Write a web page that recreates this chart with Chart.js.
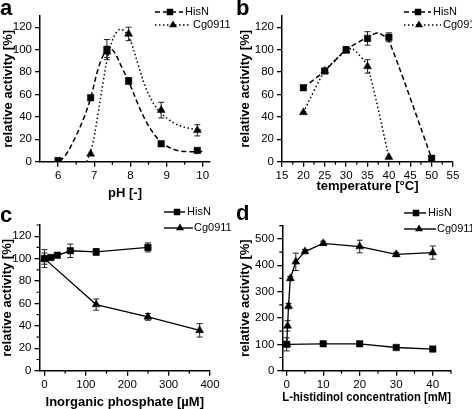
<!DOCTYPE html>
<html>
<head>
<meta charset="utf-8">
<style>
    body { margin: 0; background: #fff; width: 472px; height: 409px; overflow: hidden; position: relative; }
    .panel { position: absolute; }
</style>
</head>
<body>
    <div class="panel" style="left:0;top:0"><canvas id="pa" width="236" height="205"></canvas></div>
    <div class="panel" style="left:236px;top:0"><canvas id="pb" width="236" height="205"></canvas></div>
    <div class="panel" style="left:0;top:205px"><canvas id="pc" width="236" height="204"></canvas></div>
    <div class="panel" style="left:236px;top:205px"><canvas id="pd" width="236" height="204"></canvas></div>
    <script src="https://cdn.jsdelivr.net/npm/chart.js@4/dist/chart.umd.min.js"></script>
    <script>
        // ---- a: pH ----
        const phHisN = [6.0, 6.9, 7.35, 7.95, 8.85, 9.85];
        const phHisNAct = [1, 57, 100, 72, 16, 10];
        const phHisNErr = [0, 0, 9, 3, 0, 0];
        const phCg = [6.9, 7.35, 7.95, 8.85, 9.85];
        const phCgAct = [7, 98, 114, 46, 28];
        const phCgErr = [0, 5, 6, 7, 5];
        // fitted curves
        const phFitHisNX = [6.05, 6.25, 6.45, 6.7, 6.9, 7.1, 7.25, 7.4, 7.55, 7.75, 8.0, 8.2, 8.4, 8.6, 8.8, 9.0, 9.3, 9.6, 10.0];
        const phFitHisNY = [0, 8, 20, 38, 57, 82, 95, 101, 98, 85, 68, 52, 38, 27, 19, 14, 10, 9, 9];
        const phFitCgX = [6.8, 6.95, 7.1, 7.25, 7.35, 7.45, 7.55, 7.7, 7.85, 8.0, 8.2, 8.4, 8.6, 8.8, 9.0, 9.3, 9.6, 10.0];
        const phFitCgY = [0, 15, 42, 72, 90, 103, 112, 118, 116, 108, 88, 68, 54, 45, 39, 33, 30, 28];
        const phTicks = [6, 7, 8, 9, 10];
        const phMinor = [6.5, 7.5, 8.5, 9.5];

        // ---- b: temperature ----
        const tHisN = [20, 25, 30, 35, 40, 50];
        const tHisNAct = [66, 81, 100, 110, 111, 3];
        const tHisNErr = [0, 2, 2, 6, 4, 0];
        const tCg = [20, 25, 30, 35, 40];
        const tCgAct = [44, 81, 99, 85, 4];
        const tCgErr = [0, 2, 2, 6, 0];
        const tLineHisNX = [20, 25, 30, 35, 37.5, 40, 50];
        const tLineHisNY = [66, 81, 100, 111, 115, 108, 3];
        const tLineCgX = [20, 25, 30, 31.5, 35, 40];
        const tLineCgY = [44, 81, 99, 101, 85, 4];
        const tTicks = [15, 20, 25, 30, 35, 40, 45, 50, 55];
        const tMinor = [17.5, 22.5, 27.5, 32.5, 37.5, 42.5, 47.5, 52.5];

        // ---- c: inorganic phosphate ----
        const piHisN = [0, 15.6, 31.25, 62.5, 125, 250];
        const piHisNAct = [100, 101, 103, 107, 106, 110];
        const piHisNErr = [8, 0, 0, 6, 3, 4];
        const piCg = [0, 125, 250, 375];
        const piCgAct = [100, 59, 48, 36];
        const piCgErr = [5, 5, 3, 6];
        const piTicks = [0, 100, 200, 300, 400];
        const piMinor = [50, 150, 250, 350];

        // ---- d: L-histidinol ----
        const holHisN = [0, 10, 20, 30, 40];
        const holHisNAct = [100, 102, 102, 88, 82];
        const holHisNErr = [25, 0, 5, 0, 0];
        const holCg = [0, 0.25, 0.5, 1, 2.5, 5, 10, 20, 30, 40];
        const holCgAct = [100, 170, 245, 350, 413, 452, 483, 471, 441, 448];
        const holCgErr = [0, 20, 10, 8, 33, 8, 8, 24, 8, 25];
        const holTicks = [0, 10, 20, 30, 40];
        const holMinor = [5, 15, 25, 35, 45];

        const actTicks = [0, 20, 40, 60, 80, 100, 120];
        const actMinorFine = [10, 30, 50, 70, 90, 110, 130];
        const holActTicks = [0, 100, 200, 300, 400, 500];
        const holActMinor = [50, 150, 250, 350, 450, 550];

        Chart.defaults.font.family = '"Liberation Sans", Arial, sans-serif';
        Chart.defaults.color = '#000';

        const pts = (xs, ys) => xs.map((x, i) => ({ x: x, y: ys[i] }));

        function markers(label, style, xs, ys, errs, line) {
            return {
                label: label, data: pts(xs, ys), errors: errs,
                pointStyle: style, pointRadius: 4.6, pointBorderWidth: 0.5,
                pointBackgroundColor: '#000', pointBorderColor: '#000',
                showLine: !!line, borderColor: '#000', borderWidth: 1.3, tension: 0
            };
        }
        function curve(xs, ys, dash, tension) {
            return {
                data: pts(xs, ys), showLine: true, pointRadius: 0,
                borderColor: '#000', borderWidth: 1.5, borderDash: dash, tension: tension
            };
        }

        function drawMarker(ctx, style, x, y) {
            ctx.beginPath();
            if (style === 'rect') {
                ctx.rect(x - 3.25, y - 3.25, 6.5, 6.5);
            } else {
                ctx.moveTo(x, y - 4.6);
                ctx.lineTo(x + 4, y + 2.3);
                ctx.lineTo(x - 4, y + 2.3);
                ctx.closePath();
            }
            ctx.fill();
        }

        function makeDecor(cfg) {
            return {
                id: 'decor',
                beforeDatasetsDraw(chart) {
                    const ctx = chart.ctx, ys = chart.scales.y;
                    ctx.save();
                    ctx.strokeStyle = '#222';
                    ctx.lineWidth = 1;
                    chart.data.datasets.forEach((ds, i) => {
                        if (!ds.errors) return;
                        chart.getDatasetMeta(i).data.forEach((p, j) => {
                            const e = ds.errors[j];
                            if (!e) return;
                            const v = ds.data[j].y;
                            const y1 = ys.getPixelForValue(v + e), y2 = ys.getPixelForValue(v - e);
                            ctx.beginPath();
                            ctx.moveTo(p.x, y1); ctx.lineTo(p.x, y2);
                            ctx.moveTo(p.x - 3, y1); ctx.lineTo(p.x + 3, y1);
                            ctx.moveTo(p.x - 3, y2); ctx.lineTo(p.x + 3, y2);
                            ctx.stroke();
                        });
                    });
                    ctx.restore();
                },
                afterDraw(chart) {
                    const ctx = chart.ctx, xs = chart.scales.x, ys = chart.scales.y;
                    ctx.save();
                    // minor ticks
                    ctx.strokeStyle = '#000';
                    ctx.lineWidth = 1.2;
                    ctx.beginPath();
                    cfg.xMinor.forEach(v => {
                        const px = xs.getPixelForValue(v);
                        ctx.moveTo(px, xs.top); ctx.lineTo(px, xs.top + 3);
                    });
                    cfg.yMinor.forEach(v => {
                        const py = ys.getPixelForValue(v);
                        ctx.moveTo(ys.right, py); ctx.lineTo(ys.right - 3, py);
                    });
                    ctx.stroke();
                    // legend
                    ctx.fillStyle = '#000';
                    ctx.font = '11px "Liberation Sans", Arial, sans-serif';
                    ctx.textBaseline = 'middle';
                    cfg.legend.forEach(it => {
                        ctx.setLineDash(it.dash);
                        ctx.lineWidth = 1.4;
                        ctx.beginPath();
                        ctx.moveTo(it.x0, it.y); ctx.lineTo(it.x1, it.y);
                        ctx.stroke();
                        ctx.setLineDash([]);
                        drawMarker(ctx, it.style, it.mx, it.y);
                        ctx.fillText(it.label, it.tx, it.y);
                    });
                    // panel letter
                    ctx.font = 'bold 22px "Liberation Sans", Arial, sans-serif';
                    ctx.textBaseline = 'alphabetic';
                    ctx.fillText(cfg.letter, 0, cfg.letterY);
                    ctx.restore();
                }
            };
        }

        function panel(id, cfg) {
            const tickFont = { size: 11.5 };
            const titleFont = { size: 13, weight: 'bold' };
            return new Chart(document.getElementById(id), {
                type: 'scatter',
                data: { datasets: cfg.datasets },
                options: {
                    responsive: false,
                    animation: false,
                    events: [],
                    layout: { padding: { top: cfg.top, right: cfg.right, left: 0, bottom: 0 } },
                    plugins: { legend: { display: false }, tooltip: { enabled: false } },
                    scales: {
                        x: {
                            type: 'linear', min: cfg.xMin, max: cfg.xMax,
                            afterBuildTicks: s => { s.ticks = cfg.xTicks.map(v => ({ value: v })); },
                            afterFit: s => { s.height = cfg.xH; },
                            grid: { drawOnChartArea: false, tickLength: 5, tickColor: '#000', lineWidth: 1.3 },
                            border: { color: '#000', width: 1.5 },
                            ticks: { color: '#000', font: tickFont, padding: 2, maxRotation: 0, autoSkip: false },
                            title: { display: true, text: cfg.xTitle, color: '#000', font: titleFont, padding: { top: 0, bottom: cfg.xTitlePad } }
                        },
                        y: {
                            type: 'linear', min: 0, max: cfg.yMax,
                            afterBuildTicks: s => { s.ticks = cfg.yTicks.map(v => ({ value: v })); },
                            afterFit: s => { s.width = cfg.yW; },
                            grid: { drawOnChartArea: false, tickLength: 5, tickColor: '#000', lineWidth: 1.3 },
                            border: { color: '#000', width: 1.5 },
                            ticks: { color: '#000', font: tickFont, padding: 3, autoSkip: false },
                            title: { display: true, text: 'relative activity [%]', color: '#000', font: titleFont, padding: { top: cfg.yTitlePad, bottom: 0 } }
                        }
                    }
                },
                plugins: [makeDecor(cfg)]
            });
        }

        const dashed = [5, 3];
        const dotted = [1.5, 2.5];

        panel('pa', {
            letter: 'a', letterY: 15,
            top: 16, right: 26, yW: 40, xH: 43.3,
            xMin: 5.5, xMax: 10.2, yMax: 130,
            xTicks: phTicks, xMinor: phMinor, yTicks: actTicks, yMinor: [],
            xTitle: 'pH [-]', xTitlePad: 4, yTitlePad: 0.5,
            datasets: [
                markers('HisN', 'rect', phHisN, phHisNAct, phHisNErr, false),
                markers('Cg0911', 'triangle', phCg, phCgAct, phCgErr, false),
                curve(phFitHisNX, phFitHisNY, dashed, 0.35),
                curve(phFitCgX, phFitCgY, dotted, 0.35)
            ],
            legend: [
                { label: 'HisN', style: 'rect', dash: dashed, y: 12, x0: 155, x1: 183, mx: 170, tx: 185 },
                { label: 'Cg0911', style: 'triangle', dash: dotted, y: 25, x0: 155, x1: 191, mx: 173, tx: 193 }
            ]
        });

        panel('pb', {
            letter: 'b', letterY: 15,
            top: 16, right: 19, yW: 46, xH: 43.3,
            xMin: 15, xMax: 55, yMax: 130,
            xTicks: tTicks, xMinor: tMinor, yTicks: actTicks, yMinor: [],
            xTitle: 'temperature [°C]', xTitlePad: 10.5, yTitlePad: 2,
            datasets: [
                markers('HisN', 'rect', tHisN, tHisNAct, tHisNErr, false),
                markers('Cg0911', 'triangle', tCg, tCgAct, tCgErr, false),
                curve(tLineHisNX, tLineHisNY, dashed, 0.2),
                curve(tLineCgX, tLineCgY, dotted, 0.2)
            ],
            legend: [
                { label: 'HisN', style: 'rect', dash: dashed, y: 12, x0: 168, x1: 195, mx: 182, tx: 197 },
                { label: 'Cg0911', style: 'triangle', dash: dotted, y: 25, x0: 168, x1: 205, mx: 183, tx: 207 }
            ]
        });

        panel('pc', {
            letter: 'c', letterY: 17,
            top: 20, right: 26, yW: 39.5, xH: 38.3,
            xMin: -12, xMax: 400, yMax: 130,
            xTicks: piTicks, xMinor: piMinor, yTicks: actTicks, yMinor: actMinorFine,
            xTitle: 'Inorganic phosphate [µM]', xTitlePad: -1, yTitlePad: 0,
            datasets: [
                markers('HisN', 'rect', piHisN, piHisNAct, piHisNErr, true),
                markers('Cg0911', 'triangle', piCg, piCgAct, piCgErr, true)
            ],
            legend: [
                { label: 'HisN', style: 'rect', dash: [], y: 7, x0: 164, x1: 185, mx: 177, tx: 187 },
                { label: 'Cg0911', style: 'triangle', dash: [], y: 23, x0: 164, x1: 193, mx: 180, tx: 194 }
            ]
        });

        panel('pd', {
            letter: 'd', letterY: 15,
            top: 20.7, right: 21, yW: 46.3, xH: 38.3,
            xMin: -1.2, xMax: 45, yMax: 550,
            xTicks: holTicks, xMinor: holMinor, yTicks: holActTicks, yMinor: holActMinor,
            xTitle: 'L-histidinol concentration [mM]', xTitlePad: 4, yTitlePad: 2,
            datasets: [
                markers('HisN', 'rect', holHisN, holHisNAct, holHisNErr, true),
                markers('Cg0911', 'triangle', holCg, holCgAct, holCgErr, true)
            ],
            legend: [
                { label: 'HisN', style: 'rect', dash: [], y: 8, x0: 168, x1: 190, mx: 180, tx: 192 },
                { label: 'Cg0911', style: 'triangle', dash: [], y: 24, x0: 168, x1: 200, mx: 183, tx: 201 }
            ]
        });
    </script>
</body>
</html>
